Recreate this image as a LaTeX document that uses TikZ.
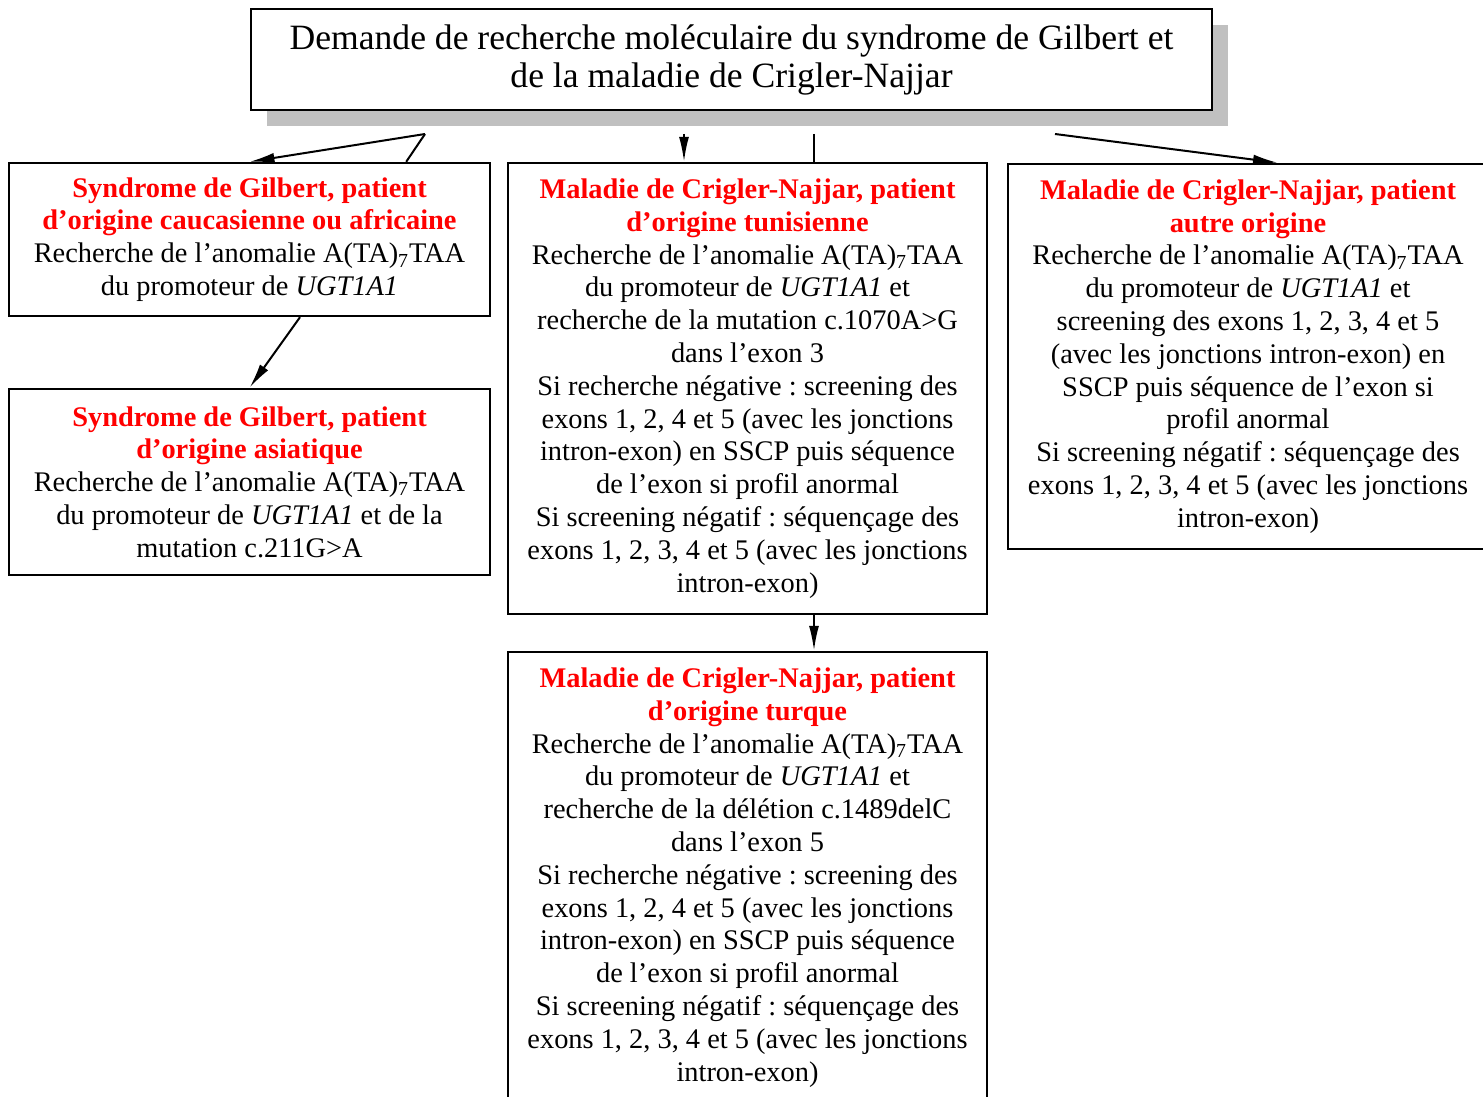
\documentclass[tikz,border=0pt]{standalone}
\usepackage{fontspec}
\setmainfont{Liberation Serif}
\frenchspacing
\usetikzlibrary{arrows.meta,shadows,calc}
\definecolor{shadowgray}{RGB}{192,192,192}
\definecolor{headred}{RGB}{255,0,0}
\newcommand{\redhead}[1]{{\color{headred}\bfseries #1}}
\newcommand{\taseq}{A(TA)\textsubscript{7}TAA}
\newcommand{\ugtgene}{\textit{UGT1A1}}
\newcommand{\boxfont}{\fontsize{14.2}{16.4}\selectfont}
\newcommand{\titlefont}{\fontsize{17.8}{19}\selectfont}
\begin{document}
\begin{tikzpicture}[x=0.5pt,y=-0.5pt,
  font=\boxfont,
  box/.style={draw, line width=1.2pt, inner sep=0pt, align=flush center, fill=white},
  arr/.style={-{Latex[length=12.5pt,width=5pt]}, line width=1pt},
  link/.style={line width=1pt}]
\useasboundingbox (0,0) rectangle (1483,1097);

% request box with its drop shadow
\node[box, minimum width=480.5pt, minimum height=50.5pt, text width=478pt,
      font=\titlefont,
      general shadow={fill=shadowgray, draw=none, shadow xshift=8pt, shadow yshift=-8pt}]
  (top) at (731.5,59.5)
  {Demande de recherche moléculaire du syndrome de Gilbert et\\
   de la maladie de Crigler-Najjar};

% Gilbert, caucasian or african origin
\node[box, minimum width=240.5pt, minimum height=76.5pt, text width=238pt]
  (g1) at (249.5,239.5)
  {\redhead{Syndrome de Gilbert, patient\\ d’origine caucasienne ou africaine}\\
   Recherche de l’anomalie \taseq\\
   du promoteur de \ugtgene};

% Gilbert, asian origin
\node[box, minimum width=240.5pt, minimum height=93pt, text width=238pt]
  (g2) at (249.5,482)
  {\redhead{Syndrome de Gilbert, patient\\ d’origine asiatique}\\
   Recherche de l’anomalie \taseq\\
   du promoteur de \ugtgene{} et de la\\
   mutation c.211G>A};

% Crigler-Najjar, tunisian origin
\node[box, minimum width=239.5pt, minimum height=225.5pt, text width=237pt]
  (m1) at (747.5,388.5)
  {\redhead{Maladie de Crigler-Najjar, patient\\ d’origine tunisienne}\\
   Recherche de l’anomalie \taseq\\
   du promoteur de \ugtgene{} et\\
   recherche de la mutation c.1070A>G\\
   dans l’exon 3\\
   Si recherche négative : screening des\\
   exons 1, 2, 4 et 5 (avec les jonctions\\
   intron-exon) en SSCP puis séquence\\
   de l’exon si profil anormal\\
   Si screening négatif : séquençage des\\
   exons 1, 2, 3, 4 et 5 (avec les jonctions\\
   intron-exon)};

% Crigler-Najjar, turkish origin
\node[box, minimum width=239.5pt, minimum height=225.5pt, text width=237pt]
  (m2) at (747.5,877.5)
  {\redhead{Maladie de Crigler-Najjar, patient\\ d’origine turque}\\
   Recherche de l’anomalie \taseq\\
   du promoteur de \ugtgene{} et\\
   recherche de la délétion c.1489delC\\
   dans l’exon 5\\
   Si recherche négative : screening des\\
   exons 1, 2, 4 et 5 (avec les jonctions\\
   intron-exon) en SSCP puis séquence\\
   de l’exon si profil anormal\\
   Si screening négatif : séquençage des\\
   exons 1, 2, 3, 4 et 5 (avec les jonctions\\
   intron-exon)};

% Crigler-Najjar, other origin
\node[box, minimum width=240pt, minimum height=192.5pt, text width=238pt]
  (r) at (1248,356.5)
  {\redhead{Maladie de Crigler-Najjar, patient\\ autre origine}\\
   Recherche de l’anomalie \taseq\\
   du promoteur de \ugtgene{} et\\
   screening des exons 1, 2, 3, 4 et 5\\
   (avec les jonctions intron-exon) en\\
   SSCP puis séquence de l’exon si\\
   profil anormal\\
   Si screening négatif : séquençage des\\
   exons 1, 2, 3, 4 et 5 (avec les jonctions\\
   intron-exon)};

% connector start points below the request box
\coordinate (s1) at (425,134);
\coordinate (s2) at (684,134);
\coordinate (s3) at (814,134);
\coordinate (s4) at (1055,134);

\draw[arr] (s1) -- (g1.north);
\draw[link] (s1) -- ([xshift=-42.5pt]g1.north east);
\draw[arr] (s2) -- (s2 |- m1.north);
\draw[link] (s3) -- (s3 |- m1.north);
\draw[arr] (s4) -- ([xshift=15pt]r.north);
\draw[arr] ([xshift=25.25pt]g1.south) -- (g2.north);
\draw[arr] (s3 |- m1.south) -- (s3 |- m2.north);
\end{tikzpicture}
\end{document}
